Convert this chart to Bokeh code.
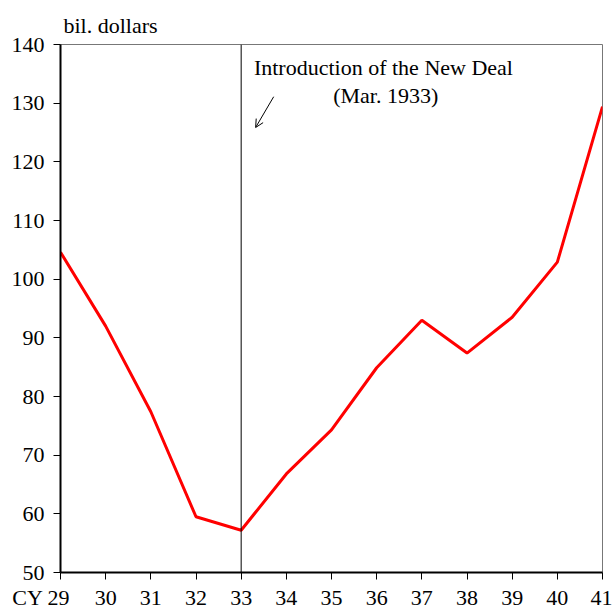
from bokeh.plotting import figure
from bokeh.models import Span, Label, Arrow, OpenHead, FixedTicker
from bokeh.embed import file_html
from bokeh.resources import INLINE

years = [29, 30, 31, 32, 33, 34, 35, 36, 37, 38, 39, 40, 41]
gnp = [104.6, 92.0, 77.4, 59.5, 57.2, 66.8, 74.3, 84.9, 93.0, 87.4, 93.5, 102.9, 129.4]
y_ticks = [50, 60, 70, 80, 90, 100, 110, 120, 130, 140]
new_deal_year = 33
unit_label = "bil. dollars"
first_tick_label = "CY 29"
annot_line1 = "Introduction of the New Deal"
annot_line2 = "(Mar. 1933)"

FONT = "Liberation Serif"
AXFONT = "serif"
FS = "22px"

p = figure(width=612, height=610, x_range=(29, 41), y_range=(50, 140),
           output_backend="svg", toolbar_location=None,
           min_border_left=60, min_border_right=10, min_border_top=44, min_border_bottom=30)
p.frame_width = 542
p.frame_height = 528
p.grid.visible = False
p.background_fill_color = "white"
p.border_fill_color = "white"
p.outline_line_color = "#777777"
p.outline_line_width = 1

p.title.text = unit_label
p.title.text_font = AXFONT
p.title.text_font_size = FS
p.title.text_font_style = "normal"
p.title.text_color = "black"
p.title.align = "left"
p.title.offset = 3
p.title.standoff = 14

for ax in (p.xaxis[0], p.yaxis[0]):
    ax.axis_line_color = "black"
    ax.axis_line_width = 2
    ax.major_tick_line_color = "black"
    ax.major_tick_line_width = 1
    ax.major_tick_out = 7
    ax.major_tick_in = 0
    ax.minor_tick_line_color = None
    ax.major_label_text_font = AXFONT
    ax.major_label_text_font_size = FS
    ax.major_label_text_color = "black"
p.yaxis.major_label_standoff = 9
p.xaxis.major_label_standoff = 5

p.xaxis.ticker = FixedTicker(ticks=years)
p.yaxis.ticker = FixedTicker(ticks=y_ticks)
p.xaxis.major_label_overrides = {years[0]: first_tick_label + "\u00a0" * 7}

p.add_layout(Span(location=new_deal_year, dimension="height", line_color="black", line_width=1))

p.line(years, gnp, line_color="red", line_width=3)

p.add_layout(Label(x=36.15, y=136.1, text=annot_line1, text_align="center", text_baseline="middle",
                   text_font=FONT, text_font_size=FS, text_color="black"))
p.add_layout(Label(x=36.2, y=131.3, text=annot_line2, text_align="center", text_baseline="middle",
                   text_font=FONT, text_font_size=FS, text_color="black"))
p.add_layout(Arrow(x_start=33.72, y_start=131.1, x_end=33.32, y_end=125.85,
                   line_color="black", line_width=1,
                   end=OpenHead(size=8, line_color="black", line_width=1)))

open("out.html", "w").write(file_html(p, INLINE))
